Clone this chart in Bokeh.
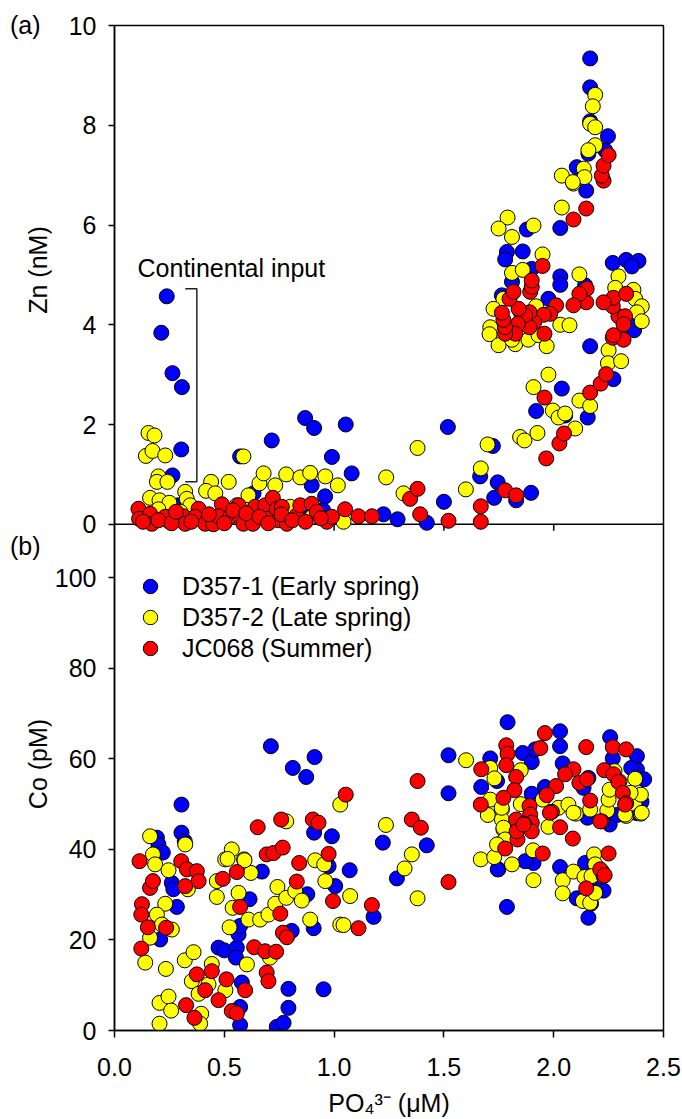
from bokeh.plotting import figure
from bokeh.layouts import row
from bokeh.models import (Range1d, FixedTicker, Label, Legend, LegendItem, Span,
                          PrintfTickFormatter, Div)
from bokeh.embed import file_html
from bokeh.resources import INLINE

# ---------------- data ----------------
series_names = ["D357-1 (Early spring)", "D357-2 (Late spring)", "JC068 (Summer)"]
series_colors = ["#0000FF", "#FFFF00", "#FF0000"]

# Panel (a): Zn (nM) vs PO4 (uM)
zn_po4_d1 = [0.238, 0.213, 0.264, 0.307, 0.304, 0.264, 0.290, 0.120, 0.210, 0.350, 0.450, 0.504, 0.633, 0.572,
             0.620, 0.680, 0.716, 0.868, 0.909, 1.053, 0.990, 1.080, 0.898, 0.959, 0.876, 0.950, 0.800, 1.225,
             1.289, 1.422, 1.500, 1.518, 1.745, 1.729, 1.829, 1.897, 1.723, 1.665, 1.920, 2.037, 2.052, 2.155,
             2.166, 2.272, 2.366, 1.787, 1.779, 1.859, 1.900, 1.810, 2.030, 2.030, 1.764, 1.976, 2.143, 2.269,
             2.330, 2.386, 2.356, 1.878, 2.030, 2.148, 2.166, 2.166, 2.166, 2.247, 2.158, 2.234, 2.105, 1.850,
             2.380]
zn_d1 = [4.57, 3.84, 3.03, 2.75, 1.50, 0.98, 0.38, 0.20, 0.15, 0.12, 0.08, 0.05, 0.62, 1.36,
         0.20, 0.25, 1.68, 2.13, 1.93, 2.00, 1.35, 1.02, 0.78, 0.56, 0.16, 0.28, 0.20, 0.20,
         0.10, 0.03, 0.45, 1.95, 0.84, 0.53, 0.48, 0.63, 1.57, 0.96, 2.27, 2.72, 2.18, 2.14,
         3.57, 2.91, 3.89, 5.46, 5.31, 5.47, 5.12, 4.86, 4.97, 4.80, 4.59, 4.52, 4.79, 5.24,
         5.30, 5.28, 5.17, 5.91, 5.94, 6.69, 9.34, 8.76, 8.08, 7.78, 7.43, 7.50, 7.16, 4.25,
         4.10]

zn_po4_d2 = [0.155, 0.182, 0.143, 0.173, 0.231, 0.200, 0.193, 0.241, 0.162, 0.205, 0.250, 0.322, 0.329, 0.345,
             0.300, 0.200, 0.150, 0.250, 0.587, 0.440, 0.417, 0.459, 0.520, 0.610, 0.660, 0.679, 0.732, 0.782,
             0.846, 0.891, 0.960, 1.017, 0.557, 0.800, 0.500, 0.700, 0.900, 1.043, 0.380, 0.620, 1.237, 1.380,
             1.316, 1.600, 1.668, 1.699, 1.847, 1.867, 1.926, 1.908, 1.976, 1.996, 2.022, 2.052, 2.098, 2.117,
             2.166, 2.250, 2.247, 2.307, 1.790, 1.749, 1.810, 1.908, 1.949, 1.810, 1.859, 2.117, 1.771, 1.726,
             1.711, 1.708, 1.749, 1.920, 1.825, 1.810, 1.885, 1.931, 1.968, 2.030, 2.072, 2.295, 2.280, 2.363,
             2.371, 2.401, 2.379, 2.401, 2.037, 2.090, 2.189, 2.178, 2.166, 2.189, 2.189, 2.158, 2.137, 2.140,
             2.037, 2.087]
zn_d2 = [1.83, 1.78, 1.37, 1.47, 1.38, 0.96, 0.85, 0.85, 0.53, 0.48, 0.43, 0.65, 0.51, 0.38,
         0.25, 0.30, 0.10, 0.05, 1.36, 0.85, 0.67, 0.62, 0.85, 0.58, 0.82, 1.02, 0.78, 1.00,
         0.94, 1.03, 0.96, 0.78, 0.38, 0.35, 0.20, 0.30, 0.15, 0.05, 0.20, 0.10, 0.94, 1.53,
         0.62, 0.70, 1.12, 1.60, 1.75, 1.68, 1.83, 2.75, 3.00, 2.28, 2.14, 2.22, 1.92, 2.48,
         2.37, 3.49, 3.23, 3.27, 6.15, 5.93, 5.76, 5.99, 5.41, 5.04, 5.10, 5.01, 4.52, 4.32,
         3.95, 3.81, 3.59, 4.37, 3.61, 3.70, 3.70, 3.79, 3.57, 4.00, 3.99, 4.97, 4.74, 4.70,
         4.52, 4.37, 4.25, 4.07, 6.35, 6.83, 8.61, 8.38, 8.03, 7.96, 7.60, 7.50, 7.13, 6.96,
         6.99, 6.86]

zn_po4_jc = [0.109, 0.112, 0.162, 0.170, 0.231, 0.314, 0.322, 0.383, 0.367, 0.413, 0.450, 0.489, 0.474, 0.527,
             0.565, 0.572, 0.587, 0.640, 0.630, 0.686, 0.694, 0.721, 0.739, 0.762, 0.747, 0.785, 0.830, 0.846,
             0.898, 0.921, 0.967, 0.990, 1.050, 1.111, 1.172, 1.346, 1.380, 1.392, 1.521, 1.668, 1.668, 1.779,
             1.829, 1.966, 2.026, 2.047, 1.958, 2.166, 2.214, 2.239, 2.269, 2.318, 2.272, 2.295, 2.325, 2.318,
             2.269, 2.272, 2.330, 2.227, 2.148, 2.150, 2.117, 2.090, 2.011, 1.984, 1.954, 1.958, 1.911, 1.890,
             1.890, 1.870, 1.840, 1.837, 1.825, 1.779, 1.779, 1.771, 1.764, 1.799, 1.817, 1.893, 1.900, 1.900,
             1.949, 2.090, 2.148, 2.227, 2.219, 2.227, 2.250, 0.130, 0.200, 0.260, 0.280, 0.350, 0.430, 0.500,
             0.540, 0.600, 0.660, 0.700, 0.760, 0.810, 0.870, 0.940]
zn_jc = [0.31, 0.11, 0.21, 0.01, 0.15, 0.16, 0.01, 0.31, 0.15, 0.01, 0.00, 0.40, 0.16, 0.15,
         0.38, 0.15, 0.01, 0.35, 0.01, 0.38, 0.11, 0.53, 0.31, 0.35, 0.08, 0.01, 0.18, 0.38,
         0.41, 0.25, 0.05, 0.15, 0.30, 0.16, 0.16, 0.51, 0.71, 0.20, 0.07, 0.36, 0.05, 0.68,
         0.58, 1.32, 1.62, 1.82, 2.54, 2.64, 2.82, 3.01, 3.74, 3.70, 3.79, 4.17, 4.17, 4.01,
         4.37, 4.54, 4.62, 4.45, 4.45, 4.72, 4.62, 4.39, 4.39, 4.22, 4.20, 3.82, 4.05, 3.95,
         4.25, 4.19, 4.32, 4.02, 3.82, 3.82, 3.95, 4.10, 4.24, 4.52, 4.66, 4.66, 4.76, 4.89,
         5.18, 6.11, 6.33, 6.89, 6.99, 7.19, 7.40, 0.05, 0.08, 0.02, 0.25, 0.05, 0.20, 0.02,
         0.28, 0.22, 0.15, 0.02, 0.20, 0.08, 0.05, 0.12]

# Panel (b): Co (pM) vs PO4 (uM)
co_po4_d1 = [0.305, 0.305, 0.320, 0.193, 0.200, 0.220, 0.261, 0.268, 0.284, 0.208, 0.474, 0.500, 0.557, 0.553,
             0.565, 0.572, 0.580, 0.572, 0.572, 0.615, 0.671, 0.792, 0.792, 0.739, 0.770, 0.807, 0.878, 0.909,
             0.990, 0.952, 0.907, 0.975, 1.005, 0.712, 0.812, 0.873, 0.911, 1.222, 1.286, 1.071, 1.180, 1.422,
             1.521, 1.521, 1.790, 2.029, 2.029, 2.257, 2.269, 2.379, 2.379, 2.412, 1.711, 1.859, 1.900, 1.916,
             1.670, 1.742, 1.900, 1.960, 2.041, 2.158, 2.136, 2.154, 2.255, 2.288, 1.748, 1.908, 2.029, 2.353,
             1.787, 1.745, 1.870, 2.105, 2.143, 2.158, 2.227, 2.400, 2.380, 2.200, 2.170]
co_d1 = [49.9, 43.7, 41.8, 42.6, 41.1, 39.3, 32.6, 31.2, 27.3, 20.1, 18.3, 17.7, 18.3, 16.1,
         21.2, 23.1, 10.6, 5.2, 1.2, 29.0, 35.1, 9.2, 5.0, 0.8, 1.7, 22.0, 30.1, 43.7,
         42.9, 9.1, 22.6, 36.3, 31.9, 62.8, 58.0, 56.0, 60.4, 41.5, 33.6, 35.4, 25.1, 40.9,
         60.8, 52.4, 68.1, 66.1, 62.8, 64.8, 60.1, 60.6, 57.7, 55.5, 60.1, 61.3, 59.3, 62.1,
         53.8, 55.1, 52.3, 53.8, 59.0, 55.8, 53.6, 47.0, 45.5, 47.6, 35.6, 37.0, 36.1, 58.0,
         27.3, 35.6, 37.4, 29.2, 37.0, 24.9, 30.9, 50.5, 48.0, 33.5, 28.0]

co_po4_d2 = [0.162, 0.322, 0.175, 0.185, 0.246, 0.334, 0.231, 0.193, 0.216, 0.261, 0.162, 0.140, 0.234, 0.320,
             0.360, 0.352, 0.383, 0.428, 0.443, 0.505, 0.205, 0.246, 0.258, 0.395, 0.390, 0.205, 0.466, 0.466,
             0.504, 0.534, 0.590, 0.621, 0.565, 0.538, 0.524, 0.610, 0.663, 0.701, 0.732, 0.742, 0.782, 0.823,
             0.853, 0.603, 0.708, 0.891, 0.914, 0.955, 0.960, 1.028, 1.028, 0.782, 0.515, 0.592, 1.236, 1.354,
             1.321, 1.380, 1.073, 1.043, 1.601, 1.711, 1.730, 1.850, 1.711, 1.700, 1.764, 1.764, 1.771, 1.748,
             1.668, 1.729, 1.810, 1.906, 1.908, 1.976, 2.022, 2.067, 2.101, 2.166, 2.244, 2.250, 2.255, 2.330,
             2.368, 2.397, 2.397, 2.371, 2.277, 2.041, 2.041, 2.090, 2.140, 2.184, 2.189, 1.771, 1.779, 1.742,
             1.763, 2.090, 2.325, 2.401, 2.133, 2.166, 2.189, 2.172, 1.850, 1.950, 2.300, 2.350]
co_d2 = [42.9, 41.1, 38.9, 36.7, 35.4, 31.2, 28.0, 25.6, 23.4, 22.3, 20.5, 15.0, 13.6, 15.5,
         17.3, 10.9, 8.1, 10.2, 14.7, 8.9, 6.1, 7.5, 4.4, 3.7, 1.5, 1.5, 29.5, 33.0,
         37.8, 40.0, 37.8, 34.8, 30.4, 27.1, 22.8, 24.5, 24.5, 25.6, 28.0, 31.7, 29.3, 30.8,
         28.7, 14.6, 16.1, 24.5, 37.6, 36.7, 33.0, 23.4, 49.9, 46.2, 37.9, 37.6, 45.4, 38.9,
         35.8, 29.2, 29.7, 23.3, 59.7, 58.0, 55.7, 57.5, 51.0, 47.6, 48.8, 46.6, 44.4, 41.1,
         37.8, 38.3, 36.7, 39.8, 33.2, 45.0, 49.2, 49.9, 47.9, 48.8, 48.6, 51.0, 53.2, 47.4,
         50.1, 52.1, 47.9, 55.6, 57.3, 33.2, 30.3, 35.1, 33.9, 38.9, 36.7, 44.8, 42.2, 41.1,
         49.2, 48.1, 47.7, 48.1, 28.6, 28.2, 30.4, 34.1, 50.0, 51.0, 55.0, 52.5]

co_po4_jc = [0.114, 0.162, 0.125, 0.122, 0.152, 0.235, 0.122, 0.304, 0.330, 0.375, 0.383, 0.322, 0.493, 0.557,
             0.572, 0.652, 0.693, 0.724, 0.766, 0.759, 0.903, 0.929, 0.841, 0.830, 0.755, 0.767, 0.785, 0.975,
             0.995, 0.636, 0.686, 0.736, 0.693, 0.701, 0.443, 0.510, 0.375, 0.413, 0.595, 0.474, 0.326, 0.364,
             0.534, 0.557, 0.175, 1.053, 1.172, 1.111, 1.354, 1.395, 1.521, 1.380, 1.960, 1.784, 1.790, 1.784,
             1.939, 2.148, 2.269, 2.330, 1.670, 1.829, 1.821, 1.771, 1.668, 2.090, 2.052, 2.011, 1.968, 2.117,
             2.151, 2.230, 2.272, 2.295, 2.315, 2.330, 2.166, 1.992, 1.890, 1.893, 1.829, 1.900, 1.865, 1.900,
             1.835, 1.779, 1.950, 2.087, 2.029, 2.219, 2.250, 2.219, 2.227, 2.148, 1.831, 1.862, 1.983, 2.212,
             2.325, 2.212, 2.232]
co_jc = [37.4, 31.5, 27.9, 25.6, 22.8, 22.7, 18.1, 37.4, 35.6, 35.2, 33.0, 31.9, 33.5, 35.0,
         27.3, 44.9, 38.9, 39.2, 40.4, 46.6, 46.6, 45.9, 37.0, 32.9, 25.8, 21.6, 20.6, 39.0,
         28.6, 18.4, 17.5, 17.4, 12.8, 10.9, 13.1, 11.3, 12.4, 8.9, 8.9, 6.7, 5.6, 2.8,
         4.3, 3.8, 33.0, 52.1, 27.7, 22.6, 46.6, 44.8, 32.8, 55.1, 65.7, 63.0, 61.1, 58.6,
         62.4, 62.6, 62.6, 62.1, 57.7, 56.0, 53.1, 51.4, 49.9, 57.7, 56.6, 54.0, 52.0, 54.7,
         55.5, 57.5, 56.6, 54.9, 52.5, 50.2, 50.8, 48.3, 49.6, 47.7, 46.6, 45.9, 45.7, 44.0,
         42.2, 40.2, 39.1, 42.4, 44.9, 46.2, 39.1, 35.2, 34.1, 31.4, 44.0, 45.5, 48.1, 46.2,
         49.9, 35.6, 34.3]

x_ticks = [0.0, 0.5, 1.0, 1.5, 2.0, 2.5]
zn_ticks = [0, 2, 4, 6, 8, 10]
co_ticks = [0, 20, 40, 60, 80, 100]

# ---------------- layout / scales ----------------
FONT = "Liberation Sans"
FS = "25px"
ZN_TOP, ZN_BOTTOM = 10.0, -10.15     # Zn panel occupies the upper part of the frame
CO_TOP = 222.0                       # Co panel: 0 at frame bottom
LABEL_W = 51                          # side strip holding panel letters and y titles
FRAME_TOP = 25
FRAME_H = 1005


def co_equiv(z):
    return round((z - ZN_BOTTOM) / (ZN_TOP - ZN_BOTTOM) * CO_TOP, 6)


p = figure(frame_width=549, frame_height=FRAME_H, output_backend="svg", toolbar_location=None,
           x_range=Range1d(0, 2.5), y_range=Range1d(0, CO_TOP),
           min_border_left=60, min_border_right=19, min_border_top=FRAME_TOP, min_border_bottom=0,
           background_fill_color="white", border_fill_color="white")
p.extra_y_ranges = {"zn": Range1d(ZN_BOTTOM, ZN_TOP)}
p.xgrid.visible = False
p.ygrid.visible = False
p.outline_line_color = "black"
p.outline_line_width = 1.5

# x axis
xa = p.xaxis[0]
xa.ticker = FixedTicker(ticks=x_ticks, minor_ticks=[])
xa.formatter = PrintfTickFormatter(format="%.1f")
xa.major_tick_out = 7
xa.major_tick_in = 0
xa.minor_tick_out = 0
xa.axis_line_width = 1.5
xa.major_tick_line_width = 1.5
xa.major_label_standoff = 20
xa.major_label_text_font = FONT
xa.major_label_text_font_size = FS
xa.major_label_text_color = "black"
xa.axis_label = "PO\u2084\u00b3\u207b (\u03bcM)"
xa.axis_label_standoff = 10
xa.axis_label_text_font = FONT
xa.axis_label_text_font_size = FS
xa.axis_label_text_font_style = "normal"
xa.axis_label_text_color = "black"
xa.axis_label_text_line_height = 0.9

# y axis (shared spine, Co ticks below, Zn ticks above)
ya = p.yaxis[0]
y_tick_pos = co_ticks + [co_equiv(z) for z in zn_ticks]
overrides = {t: str(t) for t in co_ticks}
overrides.update({co_equiv(z): str(z) for z in zn_ticks})
ya.ticker = FixedTicker(ticks=y_tick_pos, minor_ticks=[])
ya.major_label_overrides = overrides
ya.major_tick_out = 6
ya.major_tick_in = 0
ya.minor_tick_out = 0
ya.axis_line_width = 1.5
ya.major_tick_line_width = 1.5
ya.major_label_standoff = 12
ya.major_label_text_font = FONT
ya.major_label_text_font_size = FS
ya.major_label_text_color = "black"

# divider between the panels, with its own ticks pointing down
p.add_layout(Span(location=0, dimension="width", y_range_name="zn", line_color="black",
                  line_width=1.5, level="underlay"))
inner_ticks = x_ticks[1:-1]
p.segment(x0=inner_ticks, y0=[0] * len(inner_ticks), x1=inner_ticks, y1=[-0.13] * len(inner_ticks),
          y_range_name="zn", line_color="black", line_width=1.5)

# panel (a) points
mk = dict(size=15, line_color="black", line_width=1)
p.scatter(zn_po4_d1, zn_d1, fill_color=series_colors[0], y_range_name="zn", **mk)
p.scatter(zn_po4_d2, zn_d2, fill_color=series_colors[1], y_range_name="zn", **mk)
p.scatter(zn_po4_jc, zn_jc, fill_color=series_colors[2], y_range_name="zn", **mk)

# panel (b) points
rb1 = p.scatter(co_po4_d1, co_d1, fill_color=series_colors[0], **mk)
rb2 = p.scatter(co_po4_d2, co_d2, fill_color=series_colors[1], **mk)
rb3 = p.scatter(co_po4_jc, co_jc, fill_color=series_colors[2], **mk)

# legend: one single-item legend per series, stacked ~31 px apart
legend_offsets = [426, 395, 364]
for name, rend, vy in zip(series_names, [rb1, rb2, rb3], legend_offsets):
    p.add_layout(Legend(items=[LegendItem(label=name, renderers=[rend])],
                        location=(18, vy), glyph_width=36, glyph_height=36,
                        padding=0, margin=0, border_line_alpha=0, background_fill_alpha=0,
                        label_text_font=FONT, label_text_font_size=FS, label_standoff=14,
                        label_text_color="black"))

# continental input annotation
p.line([0.322, 0.375, 0.375, 0.322], [4.72, 4.72, 0.85, 0.85], y_range_name="zn",
       line_color="#222222", line_width=1.5)
p.add_layout(Label(x=0.105, y=5.13, y_range_name="zn", text="Continental input",
                   text_font=FONT, text_font_size=FS, text_color="black",
                   text_baseline="alphabetic", text_align="left"))

# ---- left strip (HTML): panel letters and rotated y-axis titles ----
span_css = ("position:absolute;white-space:nowrap;line-height:1;"
            "font-family:'Liberation Sans',Arial,sans-serif;font-size:25px;color:#000;")
strip_items = [
    ("(a)", 10, 25, "translateY(-50%)"),
    ("(b)", 10, 546, "translateY(-50%)"),
    ("Zn (nM)", 38, 270, "translate(-50%,-50%) rotate(-90deg)"),
    ("Co (pM)", 38, 764, "translate(-50%,-50%) rotate(-90deg)"),
]
html = '<div style="position:relative;width:%dpx;height:%dpx;">' % (LABEL_W, FRAME_TOP + FRAME_H)
for txt, left, top, tf in strip_items:
    html += '<span style="%sleft:%dpx;top:%dpx;transform:%s;">%s</span>' % (span_css, left, top, tf, txt)
html += "</div>"
strip = Div(text=html, width=LABEL_W, height=FRAME_TOP + FRAME_H, margin=0)

layout = row(strip, p)
open("out.html", "w").write(file_html(layout, INLINE))
